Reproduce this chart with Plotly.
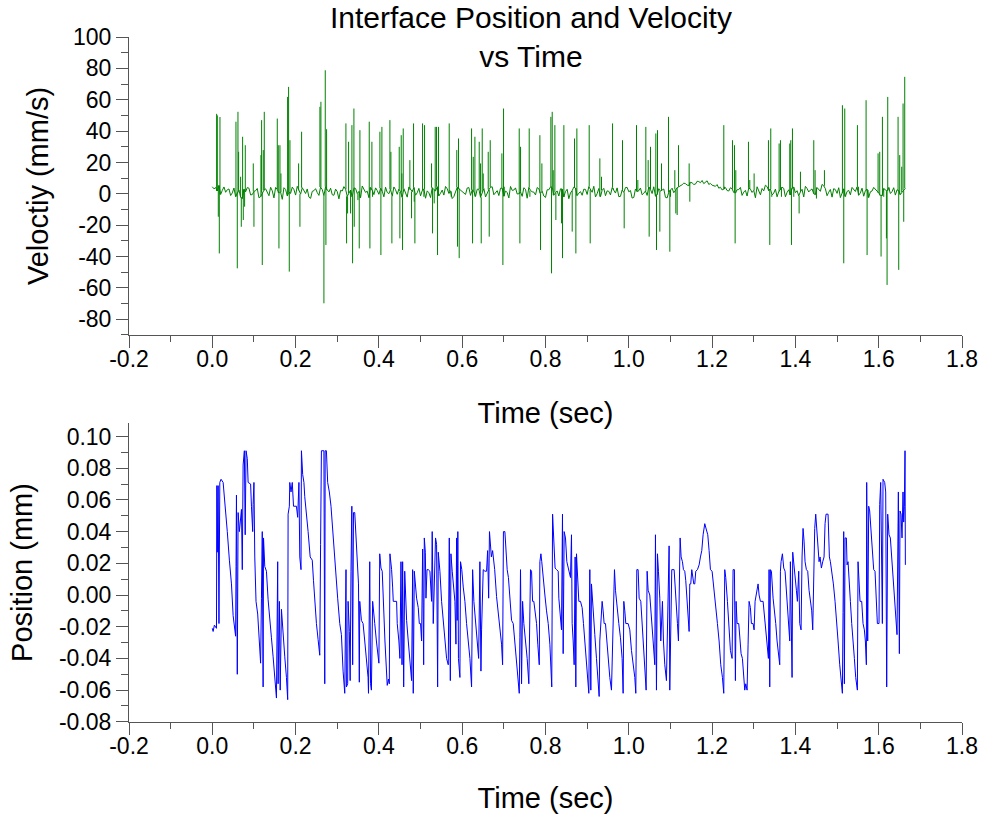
import numpy as np
import plotly.graph_objects as go

# ---------------- DATA ----------------
# Velocity baseline noise (mm/s), samples at t = 0.008*i
vel_baseline_a = [
    4.5, 4.0, 5.3, 2.2, 1.0, 3.1, 0.6, -1.8, 2.5, -3.0, 1.3, 3.6, -0.5, 2.0, -2.5, 0.8, 3.2, -1.2, 1.9, 4.1,
    0.5, -3.5, 2.8, 1.1, 4.3, -0.8, 2.2, 3.9, 0.2, -2.1, 1.6, 3.3, -1.0, 2.7, 4.6, 1.2, -0.6, 3.0, -3.2, 1.8,
    2.9, 0.4, -1.9, 3.4, 1.5, 5.0, 0.9, -2.4, 2.3, 3.8, -0.3, 1.7, 4.2, 0.1, -1.5, 2.6, 3.1, -2.2, 1.0, 4.4,
    1.4, -0.9, 3.5, 2.1, -2.8, 0.7, 3.9, 1.8, -1.3, 2.4, 4.7, 0.3, -3.0, 2.0, 3.3, 1.1, -0.4, 4.0, 2.5, -1.7,
    3.0, 1.2, -2.0, 2.7, 4.5, 0.6, -1.1, 3.6, 1.9, -2.6, 2.2, 3.8, 0.0, -1.6, 2.9, 4.1, 1.3, -0.7, 3.2, 1.7,
    -2.3, 2.6, 4.3, 0.8, -1.4, 3.0, 1.5, -3.1, 2.0, 3.7, 0.4, -0.9, 2.8, 4.6, 1.0, -2.0, 3.4, 2.2, -1.2, 1.6,
    3.9, 0.5, -1.8, 2.5, 4.0, 1.3, -2.7, 3.1, 2.0, -0.6, 1.8, 4.4, 0.2, -1.5, 3.3, 2.4, -2.2, 1.1, 3.6, 2.8,
    4.5, 5.8, 6.5, 5.2, 7.0, 6.2, 7.8, 8.5, 7.2, 6.0, 5.5, 4.8, 3.6, 2.5, 4.0, 1.8, 3.2, 0.6, 2.7, -1.0,
    2.2, 3.8, 0.9, -2.5, 1.6, 3.4, 5.5, 2.0, -0.8, 3.0, 1.4, 4.2, -1.9, 2.6, 3.5, 0.7, -1.3, 2.9, 4.8, 1.2,
    3.1, -0.5, 2.4, 6.0, 3.3, 1.0, -2.1, 2.7, 3.9, 0.4, -1.7, 2.2, 4.1, 1.5, -0.9, 3.6, 2.0, -2.4, 1.8, 3.0,
    0.6, -1.2, 2.5, 4.0, 1.4, -0.8, 2.1, 1.0, 3.5,
]
# Velocity baseline noise (mm/s), samples at t = 0.004 + 0.008*i
vel_baseline_b = [
    3.2, 1.8, -0.4, 4.4, 2.6, -1.1, 3.7, 0.9, -2.2, 2.9, 4.0, -0.7, 1.6, 3.4, -1.8, 2.3, 0.5, 4.2, -2.6, 2.8,
    1.1, 3.9, -1.4, 0.3, 2.7, 4.8, -0.2, 1.5, 3.1, -2.9, 2.0, 0.8, 4.3, -1.2, 2.5, 3.6, -0.9, 1.4, 2.2, 4.6,
    -1.6, 2.4, 3.8, 0.2, -2.5, 3.0, 1.7, 4.1, -0.5, 2.1, 3.5, -1.9, 0.9, 2.8, 4.4, -0.3, 1.2, 3.3, -2.1, 2.6,
    4.0, 0.7, -1.3, 3.1, 1.9, -2.4, 2.7, 4.5, 0.4, -0.8, 3.2, 1.6, -1.7, 4.1, 2.3, 0.0, 3.7, -1.0, 1.5, 2.9,
    -2.2, 3.4, 1.0, 4.2, -0.6, 2.0, 3.6, -1.5, 0.8, 4.7, 2.4, -0.1, 1.3, 3.9, -2.8, 2.2, 1.1, 4.0, 0.3, -1.4,
    2.6, 4.4, -0.9, 1.8, 3.2, -2.0, 2.9, 0.6, 4.3, -1.1, 1.4, 3.0, -0.4, 2.5, 4.8, 0.1, -1.8, 3.5, 1.9, -0.7,
    2.3, 3.8, -1.6, 0.9, 4.1, 2.1, -2.3, 1.5, 3.7, 0.4, -1.0, 2.8, 4.5, -0.5, 1.7, 3.1, -2.6, 2.4, 0.7, 3.9,
    5.0, 6.8, 5.6, 7.4, 6.0, 8.0, 7.1, 6.5, 8.3, 6.6, 5.1, 5.9, 4.2, 3.0, 2.1, 3.9, 0.8, 2.6, 4.1, 1.1,
    -1.4, 3.0, 2.2, 4.5, -0.6, 1.9, 4.6, 3.1, 0.5, -1.9, 2.7, 3.5, 0.9, -0.7, 4.3, 2.0, 1.2, -2.0, 3.4, 2.4,
    0.1, 4.0, 1.6, 5.1, -1.2, 2.8, 3.3, 0.3, -2.4, 3.2, 1.5, -0.6, 2.9, 4.4, 0.6, -1.5, 3.0, 1.3, 4.1, 2.1,
    -1.0, 3.4, 1.7, 0.2, 3.9, 2.6, -0.5, 2.3,
]
vel_sample_step = 0.008

# Velocity spikes (time s, velocity mm/s)
vel_spikes = [
    (0.0104, 51), (0.012, 50), (0.0144, -14.6), (0.0168, -38), (0.0184, 49),
    (0.0568, 46), (0.060, -47.5), (0.0616, 52.3), (0.0632, 26.8), (0.068, 10.9), (0.0696, -21),
    (0.0728, 36.4), (0.0744, -16.7), (0.0776, -8.2), (0.0792, 31),
    (0.0984, 19.4), (0.100, -21), (0.1168, 24.7), (0.1184, 47), (0.120, -45.4), (0.1224, 27.9), (0.1248, 52.3),
    (0.156, 48), (0.1584, 31), (0.160, -34.8), (0.1624, 31), (0.1648, 13),
    (0.1808, 61.8), (0.1832, 68.2), (0.1848, -49.6), (0.1864, 34.2),
    (0.2072, 19.4), (0.2104, -21), (0.2144, 39.6),
    (0.2584, 55.5), (0.2608, 58.7), (0.268, -69.8), (0.2712, 78.8), (0.2728, -32.6), (0.2744, 41.2),
    (0.3208, 44.9), (0.3224, -31.6), (0.3248, -12.5), (0.3272, 33.2), (0.332, -12.5), (0.3352, 43.8),
    (0.3368, -44.3), (0.340, 54.4), (0.3408, -21), (0.3496, -4), (0.3528, -34.8), (0.3544, 40.6),
    (0.3768, 46), (0.3784, -34.8), (0.3832, 33.2), (0.3848, -1.9),
    (0.4024, 39.6), (0.4048, -39), (0.4072, 42.7), (0.4264, 47), (0.4288, 26.8), (0.4312, -31.6),
    (0.4488, 30), (0.4504, -28.4), (0.4536, 37.4), (0.4552, 13), (0.4568, -35.8), (0.4584, 41.7),
    (0.4744, 21.5), (0.4784, -15.6), (0.480, 2.4), (0.4832, 44.9), (0.4848, -5), (0.4864, -31.6),
    (0.5048, 44.9), (0.508, -1.9), (0.5096, 43.8), (0.5264, 19.4), (0.5288, -25.2), (0.5328, -6.1),
    (0.5352, 42.7), (0.5384, 42.7), (0.5408, -39), (0.5432, 42.7),
    (0.5688, 44.9), (0.5704, 2.4), (0.5736, -1.9), (0.587, 27.9), (0.5888, -33.7), (0.5912, 35.3), (0.5928, -41),
    (0.6225, 41.7), (0.6249, -31.6), (0.6265, 23.6), (0.6305, 36.4), (0.6409, 33.2), (0.6441, 19.4),
    (0.6457, -31.6), (0.6481, 41.7), (0.6505, 13), (0.6625, 26.8), (0.6649, -27.3), (0.6673, 34.2),
    (0.6953, 25.8), (0.6977, -45.4), (0.6993, 54.4), (0.7009, 4.5),
    (0.7369, 41.7), (0.7385, -31.6), (0.7401, 30), (0.7609, 41.7), (0.7625, -1.9),
    (0.7865, 37.4), (0.7881, -35.8), (0.7913, 19.4),
    (0.8129, 49.1), (0.8145, -50.7), (0.8161, 52.3), (0.8185, 15.1), (0.8225, 43.8), (0.8249, -16.7),
    (0.8385, -18.8), (0.8409, -41), (0.8441, 43.8), (0.8641, -24.1), (0.8697, 35.3), (0.8729, -38), (0.8753, 41.7),
    (0.9049, 43.8), (0.9073, -31.6), (0.9305, 22.6), (0.9345, 10.9), (0.961, 44.9), (0.9633, 3.5),
    (0.9849, 34.2), (0.9889, -22), (1.0185, 43.8), (1.0217, 8.8),
    (1.0409, 42.7), (1.0465, 21.5), (1.0489, -27.3), (1.0521, 30), (1.0649, 38.5), (1.0665, -35.8),
    (1.0689, 40.6), (1.0745, -24.1), (1.0785, 19.4), (1.0953, 49.1), (1.0985, -36.9), (1.1001, -1.9),
    (1.1105, 15.1), (1.1129, -12.5), (1.1161, -13.5), (1.1193, 31), (1.1449, 19.4), (1.1465, -5),
    (1.2281, 43.8), (1.2297, 4.5), (1.2489, 34.2), (1.2537, 31), (1.2553, -31.6), (1.2569, 15.1),
    (1.2873, 33.2), (1.2905, 8.8), (1.3009, 13),
    (1.3353, 34.2), (1.3385, -32.6), (1.3409, 41.7), (1.3433, -1.9), (1.3609, 32.1), (1.3641, 34.2), (1.3665, -1.9),
    (1.3865, 32.1), (1.3889, 34.2), (1.3905, -32.6), (1.3929, 41.7), (1.3961, -1.9), (1.4089, -12.5), (1.4121, 14.1),
    (1.4441, 34.2), (1.4473, 15.1), (1.4505, -3), (1.4697, 15.1),
    (1.5129, 56.5), (1.5161, -44.3), (1.5185, 54.4), (1.5209, -1.9), (1.5489, 43.8), (1.5513, 4.5),
    (1.5697, 59.7), (1.5721, -39), (1.5745, 2.4), (1.5985, 25.8), (1.6025, 26.8), (1.6057, -40),
    (1.6089, 49.1), (1.6121, -1.9), (1.6185, -28.4), (1.6201, -58.1), (1.6217, 61.8), (1.6249, 2.4),
    (1.6465, 49.1), (1.6481, -48.5), (1.6505, 24.7), (1.6553, 17.3), (1.6585, 57.6), (1.6601, -17.8), (1.6625, 74.6),
]

# Position samples (time s, position mm), in four time segments
pos_seg1 = [
    (0.000, -0.021), (0.002, -0.023), (0.005, -0.019), (0.009, -0.021), (0.010, -0.021), (0.011, 0.069),
    (0.012, 0.027), (0.014, 0.069), (0.016, -0.018), (0.018, 0.071), (0.021, 0.073), (0.026, 0.071),
    (0.030, 0.056), (0.036, 0.040), (0.041, 0.022), (0.046, 0.007), (0.050, -0.013), (0.056, -0.026),
    (0.057, 0.018), (0.058, 0.063), (0.060, -0.050), (0.062, 0.052), (0.065, 0.040), (0.067, 0.047),
    (0.070, 0.054), (0.072, 0.016), (0.074, 0.082), (0.077, 0.091), (0.079, 0.038), (0.081, 0.091),
    (0.084, 0.086), (0.086, 0.071), (0.092, 0.070), (0.094, 0.056), (0.097, 0.040), (0.098, 0.057),
    (0.100, 0.071), (0.102, 0.024), (0.105, -0.004), (0.109, -0.012), (0.112, -0.029), (0.116, -0.043),
    (0.118, -0.002), (0.120, 0.040), (0.122, -0.058), (0.123, 0.036), (0.126, 0.018), (0.130, 0.015),
    (0.134, -0.003), (0.138, -0.018), (0.142, -0.027), (0.146, -0.039), (0.150, -0.052), (0.154, -0.065),
    (0.157, 0.021), (0.158, -0.056), (0.161, -0.004), (0.163, -0.060), (0.166, -0.009), (0.168, -0.018),
    (0.171, -0.029), (0.174, -0.039), (0.178, -0.052), (0.181, -0.066), (0.182, 0.051), (0.185, 0.056),
    (0.186, 0.071), (0.189, 0.065), (0.192, 0.071), (0.195, 0.056), (0.202, 0.056), (0.205, 0.049),
    (0.208, 0.071), (0.210, 0.024), (0.213, 0.016), (0.214, 0.091), (0.217, 0.076), (0.220, 0.071),
    (0.222, 0.062), (0.226, 0.053), (0.230, 0.040), (0.235, 0.024), (0.240, 0.022), (0.243, 0.009),
    (0.246, -0.004), (0.250, -0.018), (0.254, -0.028), (0.258, -0.038), (0.260, 0.032), (0.262, 0.091),
    (0.268, 0.091), (0.270, -0.056), (0.271, 0.091), (0.274, 0.091), (0.277, 0.071), (0.281, 0.065),
    (0.285, 0.056), (0.289, 0.040), (0.292, 0.034), (0.296, 0.014), (0.301, -0.002), (0.306, -0.018),
    (0.310, -0.025), (0.314, -0.048), (0.318, -0.062), (0.321, 0.016), (0.322, -0.058), (0.325, -0.056),
    (0.326, -0.004), (0.329, -0.023), (0.331, -0.054), (0.333, 0.015), (0.335, 0.056), (0.337, -0.044),
    (0.339, 0.052), (0.342, 0.052), (0.345, 0.035), (0.348, 0.024), (0.351, 0.007), (0.353, -0.055),
    (0.354, -0.004), (0.358, -0.016), (0.362, -0.018), (0.366, -0.029), (0.370, -0.039), (0.374, -0.052),
    (0.375, -0.062), (0.378, 0.021), (0.380, -0.056), (0.382, -0.060), (0.385, -0.004), (0.387, -0.012),
    (0.390, -0.018), (0.394, -0.029), (0.398, -0.039), (0.400, -0.043), (0.402, 0.026), (0.405, 0.017),
    (0.408, 0.015), (0.410, -0.004),
]
pos_seg2 = [
    (0.412, -0.012), (0.4145, -0.029), (0.417, -0.047), (0.420, -0.057), (0.423, -0.053), (0.425, -0.056),
    (0.4265, 0.026), (0.429, 0.020), (0.4305, 0.016), (0.433, 0.005), (0.4345, -0.004), (0.4425, -0.004),
    (0.444, -0.018), (0.448, -0.029), (0.4505, -0.040), (0.453, 0.021), (0.4555, -0.044), (0.457, 0.021),
    (0.4595, -0.058), (0.462, 0.015), (0.464, -0.004), (0.4665, -0.016), (0.4705, -0.029), (0.4745, -0.044),
    (0.4785, -0.054), (0.481, 0.016), (0.4825, -0.062), (0.485, 0.015), (0.488, 0.005), (0.4905, -0.002),
    (0.4945, -0.008), (0.497, -0.018), (0.500, -0.018), (0.5025, -0.029), (0.505, 0.029), (0.5075, -0.044),
    (0.509, 0.036), (0.5115, 0.027), (0.513, -0.002), (0.5155, 0.016), (0.5185, 0.016), (0.5225, 0.015),
    (0.5265, -0.004), (0.528, 0.040), (0.5305, -0.018), (0.533, 0.017), (0.536, 0.036), (0.5385, 0.032),
    (0.541, -0.058), (0.5425, 0.027), (0.5465, 0.015), (0.5505, -0.004), (0.5545, -0.018), (0.5585, -0.027),
    (0.5625, -0.040), (0.5665, -0.044), (0.569, 0.036), (0.5715, -0.054), (0.573, 0.026), (0.576, 0.015),
    (0.5785, 0.007), (0.5825, -0.004), (0.585, -0.031), (0.5865, 0.036), (0.588, -0.016), (0.5895, 0.040),
    (0.591, -0.040), (0.5945, -0.052), (0.596, 0.021), (0.599, 0.016), (0.6025, 0.005), (0.6065, -0.004),
    (0.6105, -0.018), (0.6145, -0.029), (0.6185, -0.040), (0.6225, -0.058), (0.625, 0.016), (0.628, -0.004),
    (0.632, -0.018), (0.636, -0.029), (0.6395, -0.040), (0.6425, 0.021), (0.645, -0.048), (0.6465, -0.022),
    (0.6505, 0.016), (0.6545, 0.015), (0.6585, 0.015), (0.661, 0.028), (0.6635, -0.002), (0.6655, 0.040),
    (0.667, 0.034), (0.670, 0.024), (0.673, 0.028), (0.676, 0.021), (0.678, 0.016), (0.6825, -0.001),
    (0.6865, -0.010), (0.6905, -0.023), (0.6945, -0.031), (0.697, -0.044), (0.699, 0.040), (0.7025, 0.040),
    (0.705, 0.024), (0.708, 0.016), (0.711, 0.011), (0.7145, -0.004), (0.7185, -0.016), (0.7225, -0.018),
    (0.7265, -0.031), (0.7305, -0.044), (0.7345, -0.056), (0.737, -0.062), (0.7385, -0.027), (0.740, 0.016),
    (0.7425, -0.056), (0.745, -0.004), (0.748, -0.018), (0.752, -0.027), (0.756, -0.040), (0.760, -0.056),
    (0.7625, -0.018), (0.764, 0.016), (0.7665, 0.015), (0.769, -0.004), (0.772, -0.004), (0.7745, -0.010),
    (0.7785, -0.018), (0.7815, -0.031), (0.785, -0.044), (0.7865, 0.021), (0.789, 0.026), (0.791, 0.021),
    (0.7945, 0.013), (0.7985, 0.000), (0.8025, -0.010), (0.8065, -0.018), (0.8105, -0.031), (0.813, -0.044),
    (0.815, -0.058), (0.817, 0.051), (0.819, 0.036), (0.821, 0.028), (0.823, 0.017), (0.8265, 0.016),
    (0.8305, 0.015),
]
pos_seg3 = [
    (0.832, -0.002), (0.8336, -0.008), (0.836, -0.018), (0.8384, -0.022), (0.8408, 0.051), (0.8424, -0.037),
    (0.8448, 0.040), (0.848, 0.036), (0.8512, 0.021), (0.8544, 0.017), (0.8576, 0.015), (0.860, 0.011),
    (0.8624, 0.038), (0.864, -0.018), (0.8664, -0.029), (0.8688, -0.044), (0.8712, 0.024), (0.8728, -0.058),
    (0.8744, 0.026), (0.8768, 0.011), (0.880, -0.004), (0.884, -0.004), (0.888, -0.008), (0.8912, -0.018),
    (0.8944, -0.029), (0.8976, -0.044), (0.9008, -0.056), (0.904, -0.062), (0.9064, 0.016), (0.9088, -0.060),
    (0.9104, 0.007), (0.9128, -0.004), (0.9152, -0.018), (0.9184, -0.025), (0.9224, -0.040), (0.9264, -0.056),
    (0.9288, -0.064), (0.9304, -0.029), (0.9328, -0.018), (0.936, -0.004), (0.9384, -0.010), (0.9408, -0.018),
    (0.944, -0.018), (0.9472, -0.029), (0.9504, -0.040), (0.9544, -0.052), (0.9584, -0.060), (0.9608, -0.031),
    (0.9632, 0.008), (0.9656, 0.016), (0.968, 0.003), (0.972, -0.010), (0.976, -0.018), (0.980, -0.027),
    (0.984, -0.040), (0.9864, -0.062), (0.988, -0.004), (0.9904, -0.010), (0.9928, -0.018), (0.9984, -0.018),
    (1.0024, -0.022), (1.0064, -0.035), (1.0104, -0.044), (1.0144, -0.052), (1.0168, -0.062), (1.0192, 0.016),
    (1.0224, 0.016), (1.0248, -0.002), (1.0288, -0.004), (1.032, -0.018), (1.0352, -0.029), (1.0384, -0.044),
    (1.0416, -0.060), (1.044, 0.015), (1.0464, 0.003), (1.0504, 0.000), (1.0544, -0.018), (1.0584, -0.029),
    (1.0624, -0.044), (1.064, 0.038), (1.0664, -0.060), (1.0688, 0.026), (1.0712, 0.015), (1.0744, -0.002),
    (1.0768, -0.029), (1.0784, -0.018), (1.0808, -0.004), (1.0832, -0.029), (1.0864, -0.044), (1.0904, -0.054),
    (1.0928, -0.029), (1.0952, 0.007), (1.0968, 0.031), (1.0984, -0.060), (1.1008, -0.018), (1.1032, 0.016),
    (1.1088, 0.016), (1.112, 0.003), (1.1144, -0.002), (1.1168, -0.018), (1.1192, -0.029), (1.1216, 0.031),
    (1.1232, 0.036), (1.1256, 0.024), (1.1288, 0.021), (1.1312, 0.016), (1.1344, 0.015), (1.1368, 0.009),
    (1.140, -0.002), (1.1424, -0.010), (1.1448, -0.023), (1.1464, 0.007), (1.1488, 0.007), (1.1512, 0.016),
    (1.1536, 0.011), (1.156, 0.007), (1.1584, 0.007), (1.1608, 0.015), (1.1648, 0.016), (1.1688, 0.019),
    (1.172, 0.024), (1.1752, 0.028), (1.1784, 0.038), (1.1824, 0.045), (1.1864, 0.041), (1.1896, 0.038),
    (1.1928, 0.028), (1.196, 0.016), (1.200, 0.015), (1.2048, 0.003), (1.2088, -0.004), (1.2128, -0.018),
    (1.2168, -0.029), (1.2208, -0.044), (1.2248, -0.052), (1.228, -0.062), (1.2304, 0.016), (1.2328, 0.011),
    (1.2368, -0.004), (1.240, -0.018), (1.244, -0.035), (1.248, -0.040), (1.2504, 0.016),
]
pos_seg4 = [
    (1.2536, 0.016), (1.256, -0.054), (1.2576, -0.004), (1.260, -0.018), (1.264, -0.018), (1.2672, -0.029),
    (1.2696, -0.037), (1.2728, -0.040), (1.276, -0.056), (1.2784, -0.060), (1.2808, -0.056), (1.284, -0.060),
    (1.2864, -0.031), (1.2888, -0.004), (1.292, -0.008), (1.2944, -0.018), (1.2984, -0.018), (1.3008, -0.022),
    (1.3032, -0.004), (1.3056, 0.000), (1.308, 0.003), (1.3104, 0.007), (1.3128, 0.000), (1.316, -0.004),
    (1.3224, -0.004), (1.3256, -0.013), (1.3288, -0.018), (1.332, -0.029), (1.3352, -0.040), (1.3368, 0.016),
    (1.3384, -0.058), (1.340, 0.016), (1.3424, 0.015), (1.3464, -0.002), (1.3504, -0.010), (1.3528, -0.018),
    (1.356, -0.029), (1.360, -0.037), (1.3624, -0.044), (1.364, 0.015), (1.3656, 0.021), (1.3688, 0.026),
    (1.372, 0.017), (1.3752, 0.015), (1.3784, 0.003), (1.3816, -0.010), (1.3848, -0.018), (1.3864, -0.029),
    (1.388, 0.021), (1.3904, -0.040), (1.392, -0.052), (1.3936, 0.027), (1.396, 0.021), (1.3992, 0.015),
    (1.4024, 0.003), (1.4048, -0.004), (1.408, 0.015), (1.4104, -0.018), (1.4136, -0.022), (1.416, 0.024),
    (1.4184, 0.042), (1.4208, 0.034), (1.4232, 0.021), (1.4264, 0.016), (1.4296, 0.015), (1.4328, 0.003),
    (1.436, -0.004), (1.4392, -0.010), (1.4416, -0.022), (1.444, 0.016), (1.4464, 0.042), (1.4488, 0.051),
    (1.4512, 0.040), (1.4544, 0.028), (1.4568, 0.021), (1.4592, 0.024), (1.4624, 0.017), (1.4656, 0.021),
    (1.4688, 0.024), (1.4712, 0.045), (1.4736, 0.051), (1.4784, 0.051), (1.4816, 0.024), (1.484, 0.021),
    (1.4872, 0.015), (1.4912, 0.007), (1.4952, -0.004), (1.4984, -0.018), (1.5024, -0.029), (1.5064, -0.044),
    (1.5104, -0.056), (1.5128, -0.062), (1.5144, -0.011), (1.516, 0.040), (1.5176, -0.056), (1.5192, 0.036),
    (1.5224, 0.036), (1.524, 0.019), (1.5264, 0.021), (1.5288, 0.007), (1.532, -0.004), (1.5352, -0.018),
    (1.5384, -0.027), (1.5416, -0.040), (1.5448, -0.052), (1.5488, -0.060), (1.5504, 0.021), (1.5528, 0.011),
    (1.5552, -0.004), (1.5592, -0.004), (1.5624, -0.018), (1.5656, -0.022), (1.568, -0.029), (1.5704, -0.044),
    (1.5712, 0.071), (1.5736, -0.029), (1.576, 0.056), (1.5784, 0.053), (1.5816, 0.040), (1.5848, 0.024),
    (1.588, 0.016), (1.5912, 0.015), (1.5944, -0.004), (1.5968, -0.018), (1.6008, -0.018), (1.6024, 0.057),
    (1.6048, 0.071), (1.6072, 0.028), (1.6088, -0.018), (1.6104, 0.073), (1.6144, 0.071), (1.6168, 0.065),
    (1.6192, -0.058), (1.6216, 0.051), (1.6248, 0.038), (1.628, 0.036), (1.6312, 0.024), (1.6344, 0.016),
    (1.6376, -0.002), (1.6408, -0.010), (1.644, -0.025), (1.6472, 0.065), (1.6496, -0.037), (1.6512, 0.053),
    (1.6536, 0.051), (1.656, 0.036), (1.6584, 0.065), (1.660, 0.046), (1.6616, 0.056), (1.6632, 0.091),
    (1.664, 0.019),
]

# Tick labels
time_tick_labels = ["-0.2", "0.0", "0.2", "0.4", "0.6", "0.8", "1.0", "1.2", "1.4", "1.6", "1.8"]
vel_tick_labels = ["-80", "-60", "-40", "-20", "0", "20", "40", "60", "80", "100"]
pos_tick_labels = ["-0.08", "-0.06", "-0.04", "-0.02", "0.00", "0.02", "0.04", "0.06", "0.08", "0.10"]

# ---------------- BUILD ----------------
t_a = np.arange(len(vel_baseline_a)) * vel_sample_step
t_b = np.arange(len(vel_baseline_b)) * vel_sample_step + vel_sample_step / 2
base_pts = sorted(list(zip(t_a.tolist(), vel_baseline_a)) + list(zip(t_b.tolist(), vel_baseline_b)))
base_t = np.array([p[0] for p in base_pts])
base_v = [p[1] for p in base_pts]

# spikes drawn as vertical strokes from the nearest baseline sample
spike_x, spike_y = [], []
for t, v in vel_spikes:
    k = int(np.argmin(np.abs(base_t - t)))
    spike_x += [t, t, None]
    spike_y += [base_v[k], v, None]

pos_pts = pos_seg1 + pos_seg2 + pos_seg3 + pos_seg4
pos_t = [p[0] for p in pos_pts]
pos_v = [p[1] for p in pos_pts]

FONT = "Liberation Sans, Arial, sans-serif"
AX = "#555555"
GREEN = "#008000"

fig = go.Figure()
fig.add_trace(go.Scatter(x=base_t.tolist(), y=base_v, mode="lines", line=dict(color=GREEN, width=1),
                         xaxis="x", yaxis="y", hoverinfo="skip"))
fig.add_trace(go.Scatter(x=spike_x, y=spike_y, mode="lines", line=dict(color=GREEN, width=1),
                         xaxis="x", yaxis="y", hoverinfo="skip", connectgaps=False))
fig.add_trace(go.Scatter(x=pos_t, y=pos_v, mode="lines", line=dict(color="#0000ff", width=1),
                         xaxis="x2", yaxis="y2", hoverinfo="skip"))


def xax(anchor):
    return dict(
        anchor=anchor, domain=[0, 1], range=[-0.2, 1.8], automargin=False,
        tickmode="array", tickvals=[float(s) for s in time_tick_labels], ticktext=time_tick_labels,
        ticks="outside", ticklen=12, tickwidth=1, tickcolor=AX, ticklabelstandoff=-9,
        minor=dict(tickmode="linear", tick0=-0.2, dtick=0.1, ticks="outside", ticklen=6, tickcolor=AX),
        showline=True, linecolor=AX, linewidth=1, showgrid=False, zeroline=False,
        tickfont=dict(family=FONT, size=23, color="black"),
        title=dict(text="Time (sec)", font=dict(family=FONT, size=29, color="black"), standoff=32),
    )


def yax(anchor, domain, rng, labels, minor_tick0, minor_dtick, title, standoff):
    return dict(
        anchor=anchor, domain=domain, range=rng, automargin=False,
        tickmode="array", tickvals=[float(s) for s in labels], ticktext=labels,
        ticks="outside", ticklen=12, tickwidth=1, tickcolor=AX,
        minor=dict(tickmode="linear", tick0=minor_tick0, dtick=minor_dtick, ticks="outside",
                   ticklen=7, tickcolor=AX),
        showline=True, linecolor=AX, linewidth=1, showgrid=False, zeroline=False,
        tickfont=dict(family=FONT, size=23, color="black"),
        title=dict(text=title, font=dict(family=FONT, size=29, color="black"), standoff=standoff),
    )


fig.update_layout(
    width=982, height=814,
    margin=dict(l=129, r=20, t=37, b=92),
    paper_bgcolor="white", plot_bgcolor="white",
    showlegend=False,
    font=dict(family=FONT, color="black"),
    xaxis=xax("y"), xaxis2=xax("y2"),
    yaxis=yax("x", [0.565, 1.0], [-90, 100.01], vel_tick_labels, -90, 10, "Veloctiy (mm/s)", 15),
    yaxis2=yax("x2", [0.0, 0.4365], [-0.0801, 0.1085], pos_tick_labels, -0.08, 0.01, "Position (mm)", 17),
    annotations=[dict(
        text="Interface Position and Velocity<br>vs Time",
        xref="paper", yref="paper", x=(531 - 129) / 833, y=(722 + 1) / 685,
        xanchor="center", yanchor="top", showarrow=False,
        font=dict(family=FONT, size=30, color="black"),
    )],
)

fig.write_html("out.html", config={"displayModeBar": False},
               post_script="document.body.style.margin='0';document.body.style.overflow='hidden';")
